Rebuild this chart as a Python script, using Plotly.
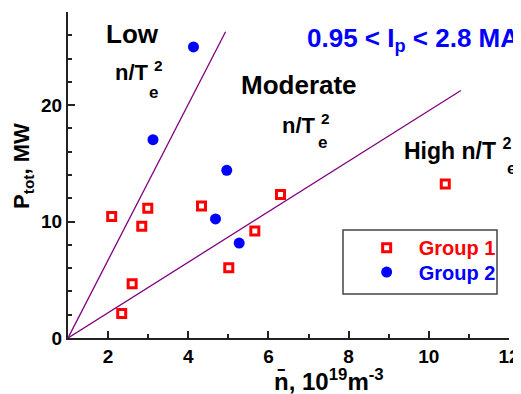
import plotly.graph_objects as go

# ---- data ----
g1_x = [2.09, 2.99, 2.84, 2.60, 2.34, 4.33, 5.66, 5.01, 6.30, 10.41]
g1_y = [10.43, 11.14, 9.60, 4.67, 2.11, 11.34, 9.20, 6.04, 12.33, 13.22]
g2_x = [4.13, 3.12, 4.96, 4.68, 5.27]
g2_y = [25.0, 17.03, 14.4, 10.23, 8.15]
low_line_x = [1.0, 4.93]
low_line_y = [0.0, 26.3]
mod_line_x = [1.0, 10.8]
mod_line_y = [0.0, 21.26]
x_ticks = [2, 4, 6, 8, 10, 12]
y_ticks = [0, 10, 20]

FONT = "Liberation Sans, Arial, sans-serif"
AX = "#222222"
PURPLE = "#800080"

fig = go.Figure()
fig.add_trace(go.Scatter(x=low_line_x, y=low_line_y, mode="lines",
                         line=dict(color=PURPLE, width=1.3), showlegend=False, hoverinfo="skip"))
fig.add_trace(go.Scatter(x=mod_line_x, y=mod_line_y, mode="lines",
                         line=dict(color=PURPLE, width=1.3), showlegend=False, hoverinfo="skip"))
fig.add_trace(go.Scatter(x=g1_x, y=g1_y, mode="markers", name="<span style='color:#ff0000'>Group 1</span>",
                         marker=dict(symbol="square-open", size=8, color="#ff0000", line=dict(width=3, color="#ff0000")),
                         cliponaxis=False, legend="legend"))
fig.add_trace(go.Scatter(x=g2_x, y=g2_y, mode="markers", name="<span style='color:#0000ff'>Group 2</span>",
                         marker=dict(symbol="circle", size=11, color="#0000ff", line=dict(width=0)),
                         cliponaxis=False, legend="legend2"))

lab = dict(family=FONT, size=26, color="black", weight="bold")
ntl = dict(family=FONT, size=22, color="black", weight="bold")
sub = dict(family=FONT, size=17, color="black", weight="bold")
ann = [
    dict(x=2.62, y=26.1, text="Low", font=lab, xanchor="center", yanchor="middle"),
    dict(x=2.12, y=22.93, text="n/T <sup>2</sup>", font=ntl, xanchor="left", yanchor="middle"),
    dict(x=3.13, y=21.1, text="e", font=sub, xanchor="center", yanchor="middle"),
    dict(x=6.77, y=21.77, text="Moderate", font=lab, xanchor="center", yanchor="middle"),
    dict(x=6.29, y=18.42, text="n/T <sup>2</sup>", font=ntl, xanchor="left", yanchor="middle"),
    dict(x=7.35, y=16.79, text="e", font=sub, xanchor="center", yanchor="middle"),
    dict(x=9.33, y=16.23, text="High n/T <sup>2</sup>", font=dict(family=FONT, size=23, color="black", weight="bold"),
         xanchor="left", yanchor="middle"),
    dict(xref="paper", yref="paper", x=1.0068, y=0.52, text="e", font=sub, xanchor="center", yanchor="middle"),
    dict(x=6.91, y=25.68, text="0.95 < I<sub>p</sub> < 2.8 MA",
         font=dict(family=FONT, size=26, color="#0000ff", weight="bold"), xanchor="left", yanchor="middle"),
    dict(xref="paper", yref="paper", x=-0.102, y=0.528, text="P<sub>tot</sub>, MW", textangle=-90,
         font=dict(family=FONT, size=22, color="black", weight="bold"), xanchor="center", yanchor="middle"),
    dict(xref="paper", yref="paper", x=0.591, y=-0.128, text="n\u0304, 10<sup>19</sup>m<sup>-3</sup>",
         font=dict(family=FONT, size=24, color="black", weight="bold"), xanchor="center", yanchor="middle"),
]
for a in ann:
    a.setdefault("xref", "x")
    a.setdefault("yref", "y")
    a["showarrow"] = False

legfont = dict(family=FONT, size=20, weight="bold")
# page body has an 8px margin, so the figure is 8px smaller and margins shifted by 8px
fig.update_layout(
    width=513, height=386,
    margin=dict(l=60, r=12, t=4, b=56),
    plot_bgcolor="white", paper_bgcolor="white",
    font=dict(family=FONT, color="black"),
    annotations=ann,
    shapes=[dict(type="rect", xref="paper", yref="paper", x0=0.6236, x1=0.9728, y0=0.135, y1=0.331,
                 line=dict(color="#444444", width=1.5), fillcolor="rgba(0,0,0,0)")],
    legend=dict(x=0.65, y=0.337, xanchor="left", yanchor="top", bgcolor="rgba(0,0,0,0)",
                borderwidth=0, itemwidth=54, font=legfont),
    legend2=dict(x=0.65, y=0.262, xanchor="left", yanchor="top", bgcolor="rgba(0,0,0,0)",
                 borderwidth=0, itemwidth=54, font=legfont),
    showlegend=True,
)
fig.update_xaxes(range=[1, 12], tickvals=x_ticks, ticks="inside", ticklen=7, tickwidth=1.5, automargin=False,
                 tickcolor=AX, showline=True, linecolor=AX, linewidth=2, showgrid=False, zeroline=False,
                 tickfont=dict(family=FONT, size=19, weight="bold", color="black"),
                 minor=dict(dtick=1, tick0=1, ticks="inside", ticklen=4, tickcolor=AX, tickwidth=1.5))
fig.update_yaxes(range=[0, 28], tickvals=y_ticks, ticks="inside", ticklen=7, tickwidth=1.5, automargin=False,
                 tickcolor=AX, showline=True, linecolor=AX, linewidth=2, showgrid=False, zeroline=False,
                 tickfont=dict(family=FONT, size=19, weight="bold", color="black"),
                 minor=dict(dtick=2, tick0=0, ticks="inside", ticklen=4, tickcolor=AX, tickwidth=1.5))

fig.write_html("out.html")
